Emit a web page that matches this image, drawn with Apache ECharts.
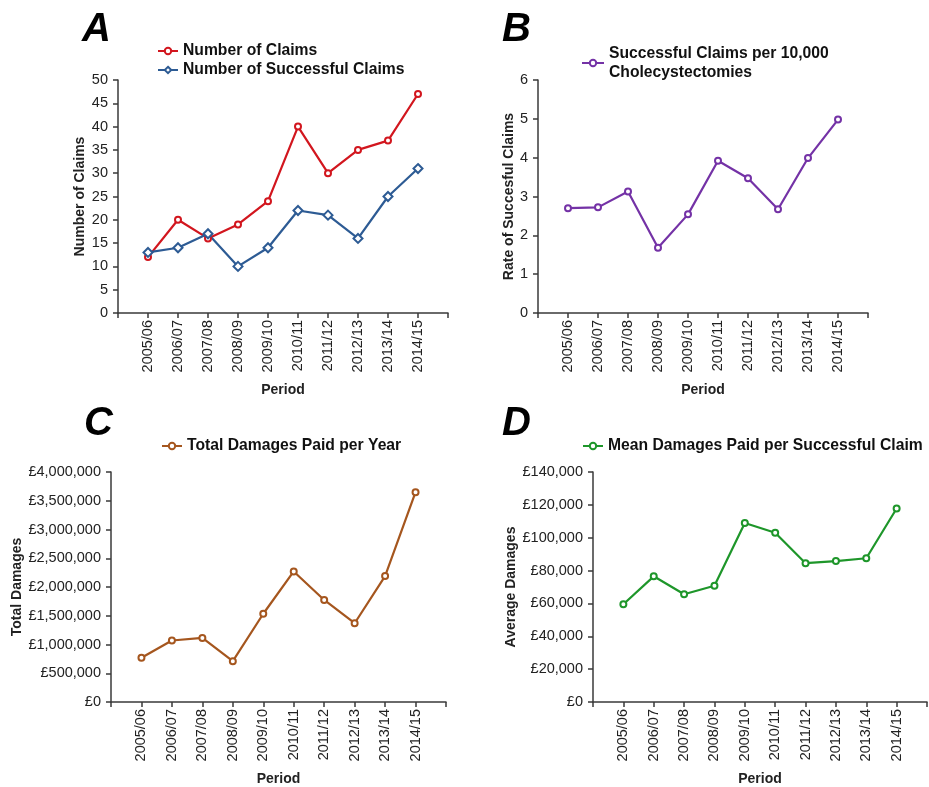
<!DOCTYPE html>
<html>
<head>
<meta charset="utf-8">
<script src="https://cdn.jsdelivr.net/npm/echarts@6/dist/echarts.min.js"></script>
<style>
  html, body { margin: 0; padding: 0; background: #fff; }
  #main { width: 929px; height: 787px; }
</style>
</head>
<body>
<div id="main"></div>
<script>
// periods shown on every x axis
var periods = ['2005/06', '2006/07', '2007/08', '2008/09', '2009/10',
               '2010/11', '2011/12', '2012/13', '2013/14', '2014/15'];

// A: claims
var claims = [12, 20, 16, 19, 24, 40, 30, 35, 37, 47];
var successfulClaims = [13, 14, 17, 10, 14, 22, 21, 16, 25, 31];
// B: successful claims per 10,000 cholecystectomies
var ratePer10k = [2.70, 2.72, 3.13, 1.68, 2.54, 3.92, 3.47, 2.67, 3.99, 4.98];
// C: total damages paid per year (GBP)
var totalDamages = [770000, 1070000, 1115000, 710000, 1535000, 2270000, 1775000, 1370000, 2190000, 3650000];
// D: mean damages per successful claim (GBP)
var meanDamages = [59500, 76500, 65600, 70800, 109000, 103000, 84500, 85800, 87500, 117800];

var FONT = 'Liberation Sans, Arial, sans-serif';

// Excel-like category axis: one empty slot on each side of the periods
var axisCats = [''].concat(periods, ['']);
function pad(arr) {
    return [null].concat(arr, [null]);
}

function pounds(v) {
    return '£' + String(v).replace(/\B(?=(\d{3})+(?!\d))/g, ',');
}

var grids = [
    {left: 118, top: 80, width: 330, height: 233},
    {left: 538, top: 80, width: 330, height: 233},
    {left: 111, top: 472, width: 335, height: 234},
    {left: 593, top: 472, width: 334, height: 234}
];

function xAxisFor(idx) {
    return {
        gridIndex: idx,
        type: 'category',
        boundaryGap: false,
        data: axisCats,
        name: 'Period',
        nameLocation: 'middle',
        nameGap: 70,
        nameTextStyle: {fontFamily: FONT, fontWeight: 'bold', fontSize: 14, color: '#222'},
        axisLine: {lineStyle: {color: '#3a3a3a', width: 1.5}},
        axisTick: {show: true, interval: 0, length: 5, lineStyle: {color: '#3a3a3a', width: 1.5}},
        axisLabel: {interval: 0, rotate: 90, margin: 7, fontFamily: FONT, fontSize: 14.5, color: '#222'},
        splitLine: {show: false}
    };
}

function yAxisFor(idx, name, max, interval, gap, fmt) {
    return {
        gridIndex: idx,
        type: 'value',
        min: 0,
        max: max,
        interval: interval,
        name: name,
        nameLocation: 'middle',
        nameGap: gap,
        nameTextStyle: {fontFamily: FONT, fontWeight: 'bold', fontSize: 14, color: '#222'},
        axisLine: {show: true, lineStyle: {color: '#3a3a3a', width: 1.5}},
        axisTick: {show: true, length: 5, lineStyle: {color: '#3a3a3a', width: 1.5}},
        axisLabel: {margin: 10, fontFamily: FONT, fontSize: 14.5, color: '#222', formatter: fmt},
        splitLine: {show: false}
    };
}

function lineSeries(idx, name, values, color, symbol, size) {
    return {
        name: name,
        type: 'line',
        xAxisIndex: idx,
        yAxisIndex: idx,
        data: pad(values),
        symbol: symbol,
        symbolSize: size,
        showAllSymbol: true,
        lineStyle: {color: color, width: 2.2},
        itemStyle: {color: color, borderColor: color, borderWidth: 1.5},
        emphasis: {disabled: true},
        animation: false
    };
}

function letter(text, left, top) {
    return {
        text: text, left: left, top: top,
        textStyle: {fontFamily: FONT, fontSize: 40, fontWeight: 'bold', fontStyle: 'italic', color: '#000'}
    };
}

var legendText = {fontFamily: FONT, fontWeight: 'bold', fontSize: 15.7, color: '#111'};

var chart = echarts.init(document.getElementById('main'));
chart.setOption({
    backgroundColor: '#fff',
    animation: false,
    title: [
        letter('A', 77, 5),
        letter('B', 497, 5),
        letter('C', 79, 399),
        letter('D', 497, 399)
    ],
    legend: [
        {data: ['Number of Claims', 'Number of Successful Claims'], orient: 'vertical',
         left: 152, top: 38, itemGap: 3, itemWidth: 20, itemHeight: 8, textStyle: legendText},
        {data: ['Successful Claims per 10,000\nCholecystectomies'], orient: 'vertical',
         left: 576, top: 39, itemWidth: 22, itemHeight: 8,
         textStyle: Object.assign({lineHeight: 19}, legendText)},
        {data: ['Total Damages Paid per Year'], left: 156, top: 433,
         itemWidth: 20, itemHeight: 8, textStyle: legendText},
        {data: ['Mean Damages Paid per Successful Claim'], left: 577, top: 433,
         itemWidth: 20, itemHeight: 8, textStyle: legendText}
    ],
    grid: grids,
    xAxis: [xAxisFor(0), xAxisFor(1), xAxisFor(2), xAxisFor(3)],
    yAxis: [
        yAxisFor(0, 'Number of Claims', 50, 5, 31),
        yAxisFor(1, 'Rate of Succesful Claims', 6, 1, 22),
        yAxisFor(2, 'Total Damages', 4000000, 500000, 81, pounds),
        yAxisFor(3, 'Average Damages', 140000, 20000, 73, pounds)
    ],
    series: [
        lineSeries(0, 'Number of Claims', claims, '#d2161e', 'emptyCircle', 6),
        lineSeries(0, 'Number of Successful Claims', successfulClaims, '#2d5b94', 'emptyDiamond', 9),
        lineSeries(1, 'Successful Claims per 10,000\nCholecystectomies', ratePer10k, '#7432a6', 'emptyCircle', 6),
        lineSeries(2, 'Total Damages Paid per Year', totalDamages, '#a5561e', 'emptyCircle', 6),
        lineSeries(3, 'Mean Damages Paid per Successful Claim', meanDamages, '#1e962a', 'emptyCircle', 6)
    ]
});
</script>
</body>
</html>
